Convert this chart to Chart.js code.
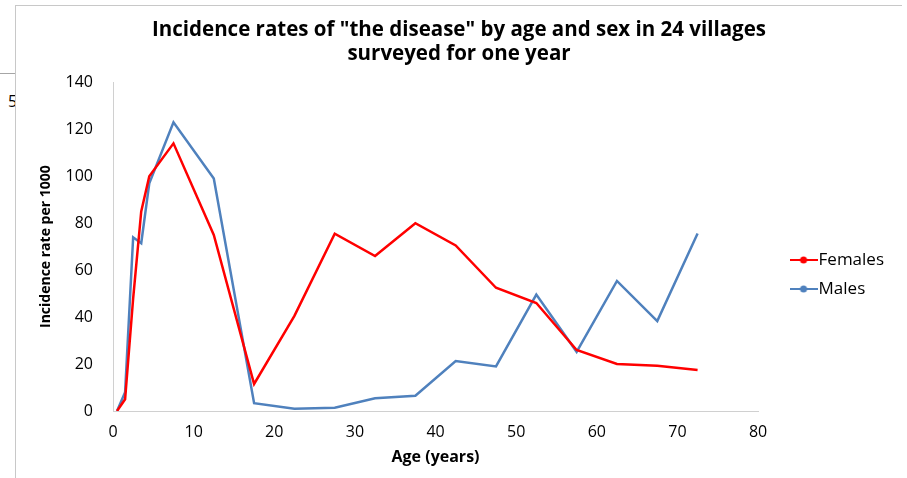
<!DOCTYPE html>
<html>
<head>
<meta charset="utf-8">
<script src="https://cdn.jsdelivr.net/npm/chart.js@4.4.1/dist/chart.umd.min.js"></script>
<style>
  html, body { margin: 0; padding: 0; background: #fff; }
  #stage { position: relative; width: 907px; height: 478px; overflow: hidden; }
  .back-rule { position: absolute; left: 0; top: 73px; width: 20px; border-top: 1px solid #a6a6a6; }
  .back-digit { position: absolute; left: 8px; top: 90px; font: 16px 'Open Sans', sans-serif; color: #000; }
  #frame { position: absolute; left: 15px; top: 5px; right: 5px; bottom: 0; background: #fff;
           border-top: 1px solid #c8c8c8; border-left: 1px solid #c8c8c8; }
  #c { position: absolute; left: 0; top: 0; }
</style>
</head>
<body>
<div id="stage">
  <div class="back-rule"></div>
  <div class="back-digit">5</div>
  <div id="frame"></div>
  <canvas id="c" width="907" height="478" style="width:907px;height:478px"></canvas>
</div>
<script>
// Age-group midpoints (years)
const ages = [0.5, 1.5, 2.5, 3.5, 4.5, 7.5, 12.5, 17.5, 22.5, 27.5, 32.5, 37.5, 42.5, 47.5, 52.5, 57.5, 62.5, 67.5, 72.5];
// Incidence per 1000
const females = [0, 5, 48, 85, 100, 114, 75, 11.5, 40.5, 75.5, 66, 80, 70.5, 52.5, 46, 26, 20, 19.3, 17.5];
const males   = [0, 8, 74, 71.5, 97, 123, 99, 3.3, 1, 1.4, 5.4, 6.5, 21.3, 19, 49.6, 25.2, 55.4, 38.3, 75.6];
const xTicks = [0, 10, 20, 30, 40, 50, 60, 70, 80];
const yTicks = [0, 20, 40, 60, 80, 100, 120, 140];

const seriesNames = ['Females', 'Males'];
const seriesColors = ['#ff0000', '#4f81bd'];

// legend marker: short line with a dot in the middle
function lineMarker(color) {
  const c = document.createElement('canvas');
  c.width = 28; c.height = 10;
  const g = c.getContext('2d');
  g.strokeStyle = color; g.lineWidth = 2;
  g.beginPath(); g.moveTo(0, 5); g.lineTo(28, 5); g.stroke();
  g.fillStyle = color;
  g.beginPath(); g.arc(14, 5, 3.5, 0, Math.PI * 2); g.fill();
  return c;
}

const toPoints = vals => vals.map((v, i) => ({ x: ages[i], y: v }));

// nudges the legend block to the right of the plot, level with its lower half
const legendNudge = {
  id: 'legendNudge',
  afterLayout(chart) {
    const lg = chart.legend;
    const dx = 27, dy = 38.5;
    lg.left += dx; lg.right += dx;
    lg.top += dy; lg.bottom += dy;
  }
};

const FONT = "'Open Sans', sans-serif";

new Chart(document.getElementById('c'), {
  type: 'line',
  data: {
    datasets: [
      { label: seriesNames[0], data: toPoints(females), borderColor: seriesColors[0], backgroundColor: seriesColors[0],
        borderWidth: 2.5, pointRadius: 0, pointHoverRadius: 0, pointStyle: lineMarker(seriesColors[0]), tension: 0 },
      { label: seriesNames[1], data: toPoints(males), borderColor: seriesColors[1], backgroundColor: seriesColors[1],
        borderWidth: 2.5, pointRadius: 0, pointHoverRadius: 0, pointStyle: lineMarker(seriesColors[1]), tension: 0 }
    ]
  },
  options: {
    responsive: false,
    animation: false,
    layout: { padding: { left: 51, right: 40, top: 5, bottom: 11 } },
    plugins: {
      title: {
        display: true,
        text: ['Incidence rates of "the disease" by age and sex in 24 villages', 'surveyed for one year'],
        color: '#000',
        font: { family: FONT, size: 20.5, weight: 'bold', lineHeight: 1.13 },
        padding: { top: 14, bottom: 17 }
      },
      legend: {
        position: 'right',
        labels: {
          usePointStyle: true,
          pointStyleWidth: 13,
          boxHeight: 10,
          padding: 12,
          color: '#000',
          font: { family: FONT, size: 17, lineHeight: 1.2 }
        }
      },
      tooltip: { enabled: false }
    },
    scales: {
      x: {
        type: 'linear', min: 0, max: 80,
        afterBuildTicks: s => { s.ticks = xTicks.map(v => ({ value: v })); },
        afterFit: s => { s.height = 56; },
        ticks: { color: '#000', font: { family: FONT, size: 16 }, padding: 12 },
        grid: { display: false, drawTicks: false },
        border: { display: true, color: '#d0d0d0', width: 1 },
        title: { display: true, text: 'Age (years)', color: '#000',
                 font: { family: FONT, size: 16, weight: 'bold' }, padding: { top: 0, bottom: 0 } }
      },
      y: {
        type: 'linear', min: 0, max: 140,
        afterBuildTicks: s => { s.ticks = yTicks.map(v => ({ value: v })); },
        afterFit: s => { s.width = 62; },
        ticks: { color: '#000', font: { family: FONT, size: 16 }, padding: 20 },
        grid: { display: false, drawTicks: false },
        border: { display: true, color: '#d0d0d0', width: 1 },
        title: { display: true, text: 'Incidence rate per 1000', color: '#000',
                 font: { family: FONT, size: 14, weight: 'bold' },
                 padding: { top: -13, bottom: 0 } }
      }
    }
  },
  plugins: [legendNudge]
});
</script>
</body>
</html>
